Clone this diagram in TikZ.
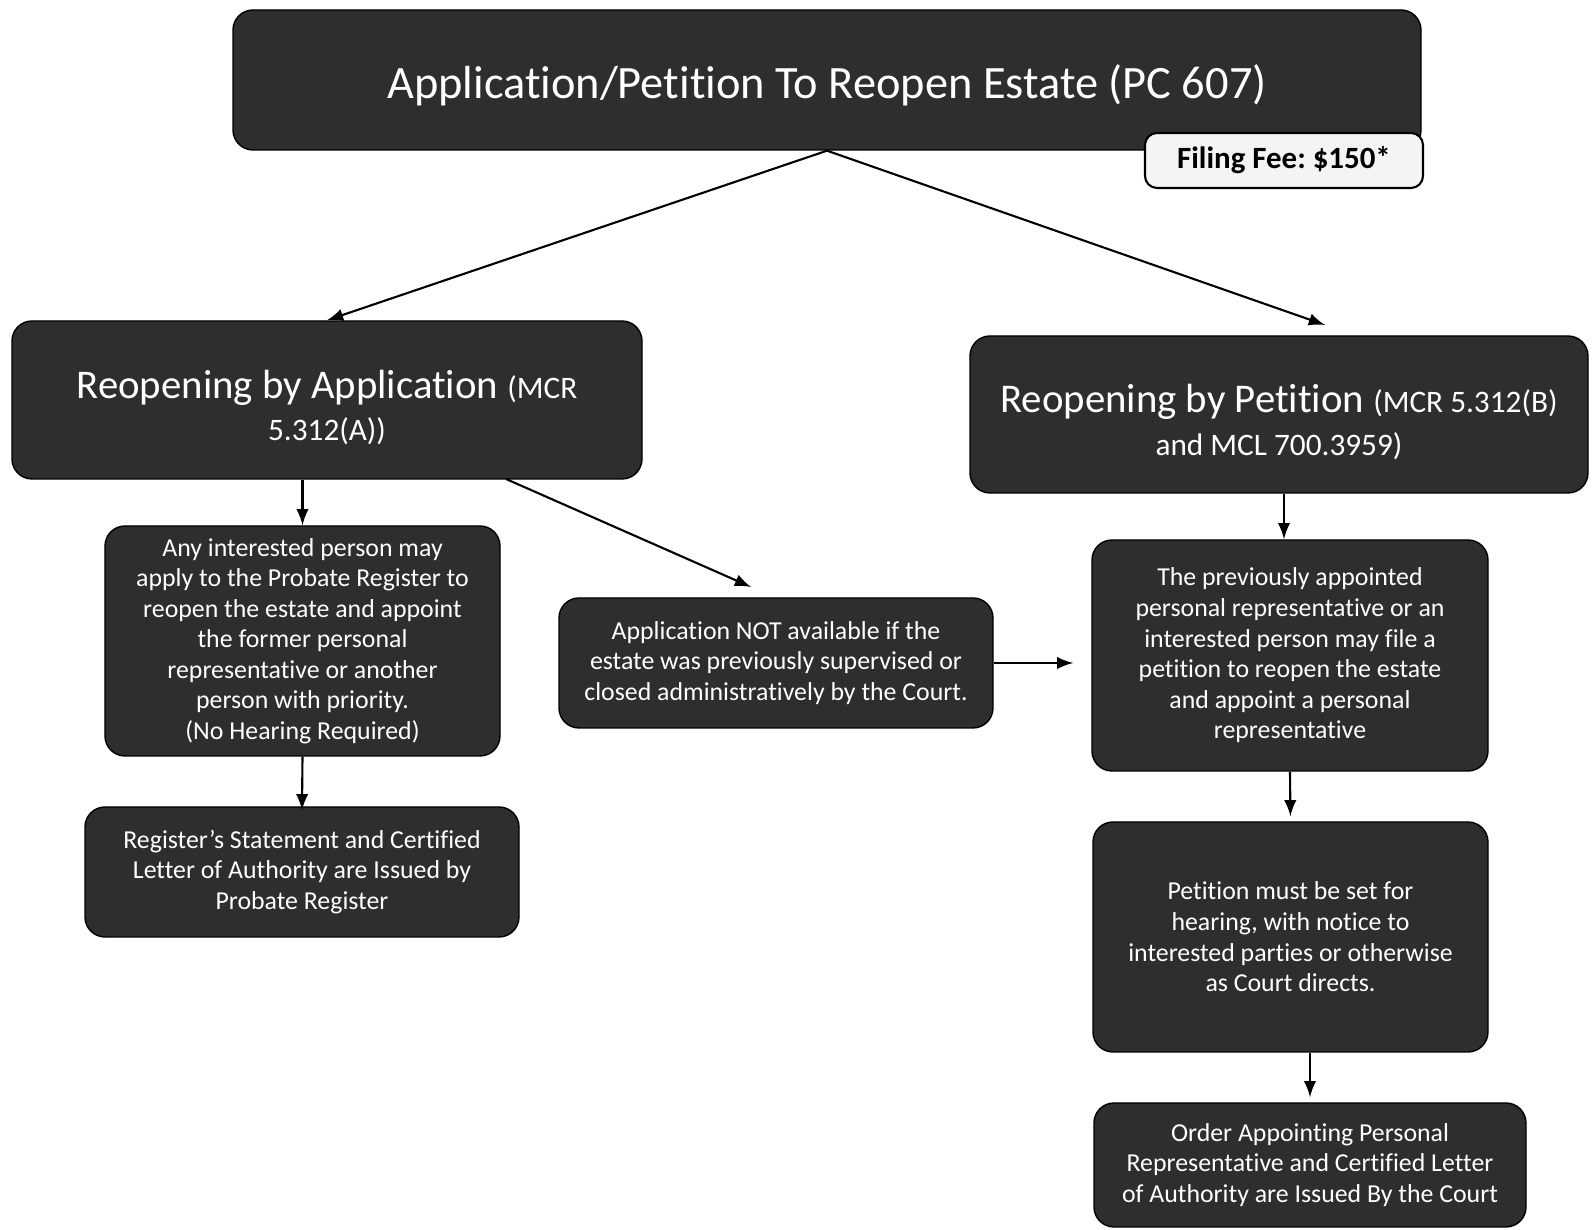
\documentclass[tikz,border=0pt]{standalone}
\usepackage{fontspec}
\setmainfont{Carlito}[Ligatures=NoCommon]
\usepackage{tikz}
\usepackage{xcolor}
\definecolor{boxgray}{HTML}{2E2E2E}
\definecolor{feegray}{HTML}{F4F4F4}
\newcommand{\refsmall}{\fontsize{8.9}{12.1}\selectfont}

\begin{document}
\begin{tikzpicture}[
    box/.style={draw=black, fill=boxgray, text=white, rounded corners=0.2cm, align=center, inner sep=0pt, font=\fontsize{7.35}{8.7}\selectfont},
    head/.style={box, font=\fontsize{11.6}{12.1}\selectfont},
    arr/.style={-latex, line width=0.6pt},
  ]
    \useasboundingbox (0,0) rectangle (15.92,12.30);
    % Top box and fee
    \node[box, minimum width=11.88cm, minimum height=1.40cm, font=\fontsize{13.2}{15}\selectfont] (title) at (8.27,11.50)
        {\rule{0pt}{12.5pt}Application/Petition To Reopen Estate (PC 607)};
    \node[draw=black, fill=feegray, rounded corners=0.12cm, line width=0.6pt, minimum width=2.78cm, minimum height=0.55cm, font=\fontsize{8.8}{10}\selectfont\bfseries] (fee) at (12.84,10.695)
        {Filing Fee:\ \$150*};
    % Two ways
    \node[head, minimum width=6.30cm, minimum height=1.58cm] (byapp) at (3.27,8.30)
        {\rule{0pt}{12.3pt}Reopening by Application {\refsmall(MCR}\\{\refsmall 5.312(A))}};
    \node[head, minimum width=6.18cm, minimum height=1.57cm] (bypet) at (12.79,8.155)
        {\rule{0pt}{12.3pt}Reopening by Petition {\refsmall(MCR 5.312(B)}\\{\refsmall and MCL 700.3959)}};
    % Application side
    \node[box, minimum width=3.95cm, minimum height=2.30cm] (anyone) at (3.025,5.89)
        {Any interested person may\\apply to the Probate Register to\\reopen the estate and appoint\\the former personal\\representative or another\\person with priority.\\(No Hearing Required)};
    \node[box, minimum width=4.34cm, minimum height=1.30cm] (register) at (3.02,3.58)
        {Register’s Statement and Certified\\Letter of Authority are Issued by\\Probate Register};
    \node[box, minimum width=4.34cm, minimum height=1.30cm] (notavail) at (7.76,5.67)
        {Application NOT available if the\\estate was previously supervised or\\closed administratively by the Court.};
    % Petition side
    \node[box, minimum width=3.96cm, minimum height=2.31cm] (prevrep) at (12.90,5.745)
        {The previously appointed\\personal representative or an\\interested person may file a\\petition to reopen the estate\\and appoint a personal\\representative};
    \node[box, minimum width=3.95cm, minimum height=2.30cm] (hearing) at (12.905,2.93)
        {Petition must be set for\\hearing, with notice to\\interested parties or otherwise\\as Court directs.};
    \node[box, minimum width=4.32cm, minimum height=1.24cm] (order) at (13.10,0.65)
        {Order Appointing Personal\\Representative and Certified Letter\\of Authority are Issued By the Court};
    % Free ends
    \coordinate (pettip) at (13.25,9.05);
    \coordinate (appout) at (5.06,7.51);
    \coordinate (nottip) at (7.51,6.43);
    % Arrows
    \draw[arr] (title.south) -- (byapp.north);
    \draw[arr] (title.south) -- (pettip);
    \draw[arr] (anyone.north |- byapp.south) -- (anyone.north);
    \draw[arr] (appout) -- (nottip);
    \draw[arr] (anyone.south) -- ([yshift=-0.04cm]register.north);
    \draw[arr, shorten >=0.18cm] (notavail.east) -- (prevrep.west |- notavail.east);
    \draw[arr] ([xshift=0.05cm]bypet.south) -- ([xshift=0.05cm]bypet.south |- prevrep.north);
    \draw[arr, shorten >=0.05cm] (prevrep.south) -- (hearing.north);
    \draw[arr, shorten >=0.05cm] (hearing.south -| order.north) -- (order.north);
\end{tikzpicture}
\end{document}
